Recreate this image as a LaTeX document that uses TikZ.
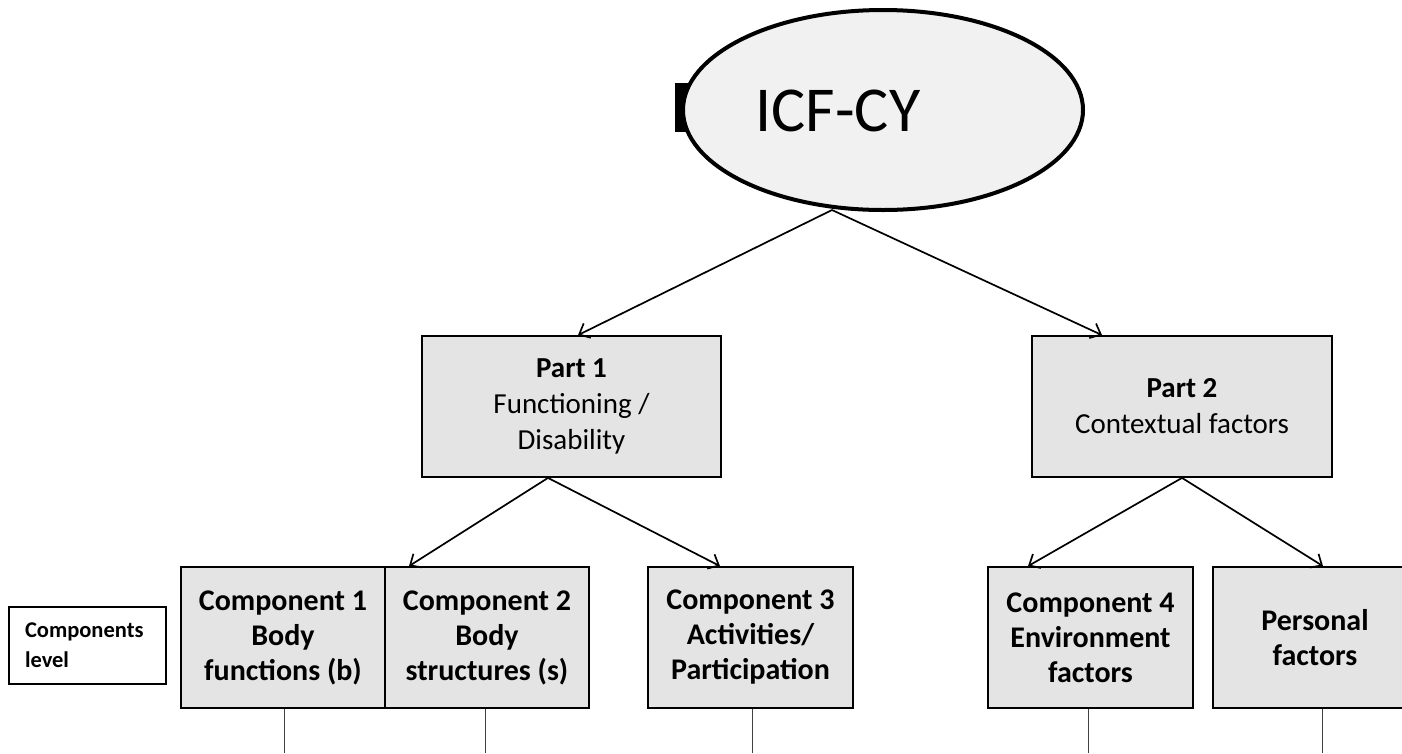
\documentclass[tikz,border=0pt]{standalone}
\usepackage{fontspec}
\setmainfont{Carlito}
\usetikzlibrary{arrows.meta,calc,shapes.geometric}
\definecolor{boxfill}{HTML}{E4E4E4}
\definecolor{ellfill}{HTML}{F1F1F1}
\tikzset{
  partbox/.style={draw, line width=1.8pt, fill=boxfill, minimum width=299pt, minimum height=141pt, align=center, inner sep=0pt, font=\fontsize{29}{36}\selectfont},
  compbox/.style={draw, line width=1.8pt, fill=boxfill, minimum width=204pt, minimum height=141pt, align=center, inner sep=0pt, font=\fontsize{30}{35}\selectfont\bfseries},
  arr/.style={line width=1.7pt, -{Straight Barb[length=9pt,width=16pt,line width=1.7pt]}},
  stem/.style={line width=1pt, draw=black!75}
}
\begin{document}
\begin{tikzpicture}[x=1pt,y=-1pt]
\useasboundingbox (0,0) rectangle (1402,753);
\clip (0,0) rectangle (1402,753);
% remnant mark left of ellipse
\fill (675,83) rectangle (690,132);
\node[ellipse, draw, line width=4pt, fill=ellfill, minimum width=400pt, minimum height=200pt, inner sep=0pt] (icf) at (883,110) {};
\node[anchor=base, inner sep=0pt, font=\fontsize{64}{64}\selectfont] (icft) at (838,131) {ICF-CY};
\coordinate (apex) at ([xshift=-51pt, yshift=2pt]icf.south);
% parts
\node[partbox] (p1) at (571.5,406.5) {\textbf{Part 1}\\Functioning /\\Disability};
\node[partbox, minimum width=300pt] (p2) at (1182,406.5) {\textbf{Part 2}\\Contextual factors};
% components
\node[compbox] (c1) at (283,637.5) {Component 1\\Body\\functions (b)};
\node[compbox] (c2) at (487,637.5) {Component 2\\Body\\structures (s)};
\node[compbox, minimum width=205pt] (c3) at (750.5,637.5) {Component 3\\Activities/\\Participation};
\node[compbox, minimum width=205pt] (c4) at (1090.5,637.5) {Component 4\\Environment\\factors};
\node[compbox] (pf) at (1315,637.5) {Personal\\factors};
\node[draw, line width=1.3pt, minimum width=157pt, minimum height=77pt, text width=125pt, inner xsep=16pt, align=left, font=\fontsize{22.5}{30}\selectfont\bfseries] (lvl) at (87.5,645.5) {Components\\level};
% arrows
\draw[arr] (apex) -- ([xshift=6.5pt]p1.north);
\draw[arr] (apex) -- ([xshift=-80pt]p2.north);
\draw[arr] ([xshift=-23.5pt]p1.south) -- ([xshift=-78pt]c2.north);
\draw[arr] ([xshift=-23.5pt]p1.south) -- ([xshift=-30.5pt]c3.north);
\draw[arr] (p2.south) -- ([xshift=-62.5pt]c4.north);
\draw[arr] (p2.south) -- ([xshift=8pt]pf.north);
% stems
\coordinate (b1) at (284,753);
\coordinate (b2) at (485,753);
\coordinate (b3) at (752,753);
\coordinate (b4) at (1088,753);
\coordinate (b5) at (1322,753);
\draw[stem] (c1.south -| b1) -- (b1);
\draw[stem] (c2.south -| b2) -- (b2);
\draw[stem] (c3.south -| b3) -- (b3);
\draw[stem] (c4.south -| b4) -- (b4);
\draw[stem] (pf.south -| b5) -- (b5);
\end{tikzpicture}
\end{document}
